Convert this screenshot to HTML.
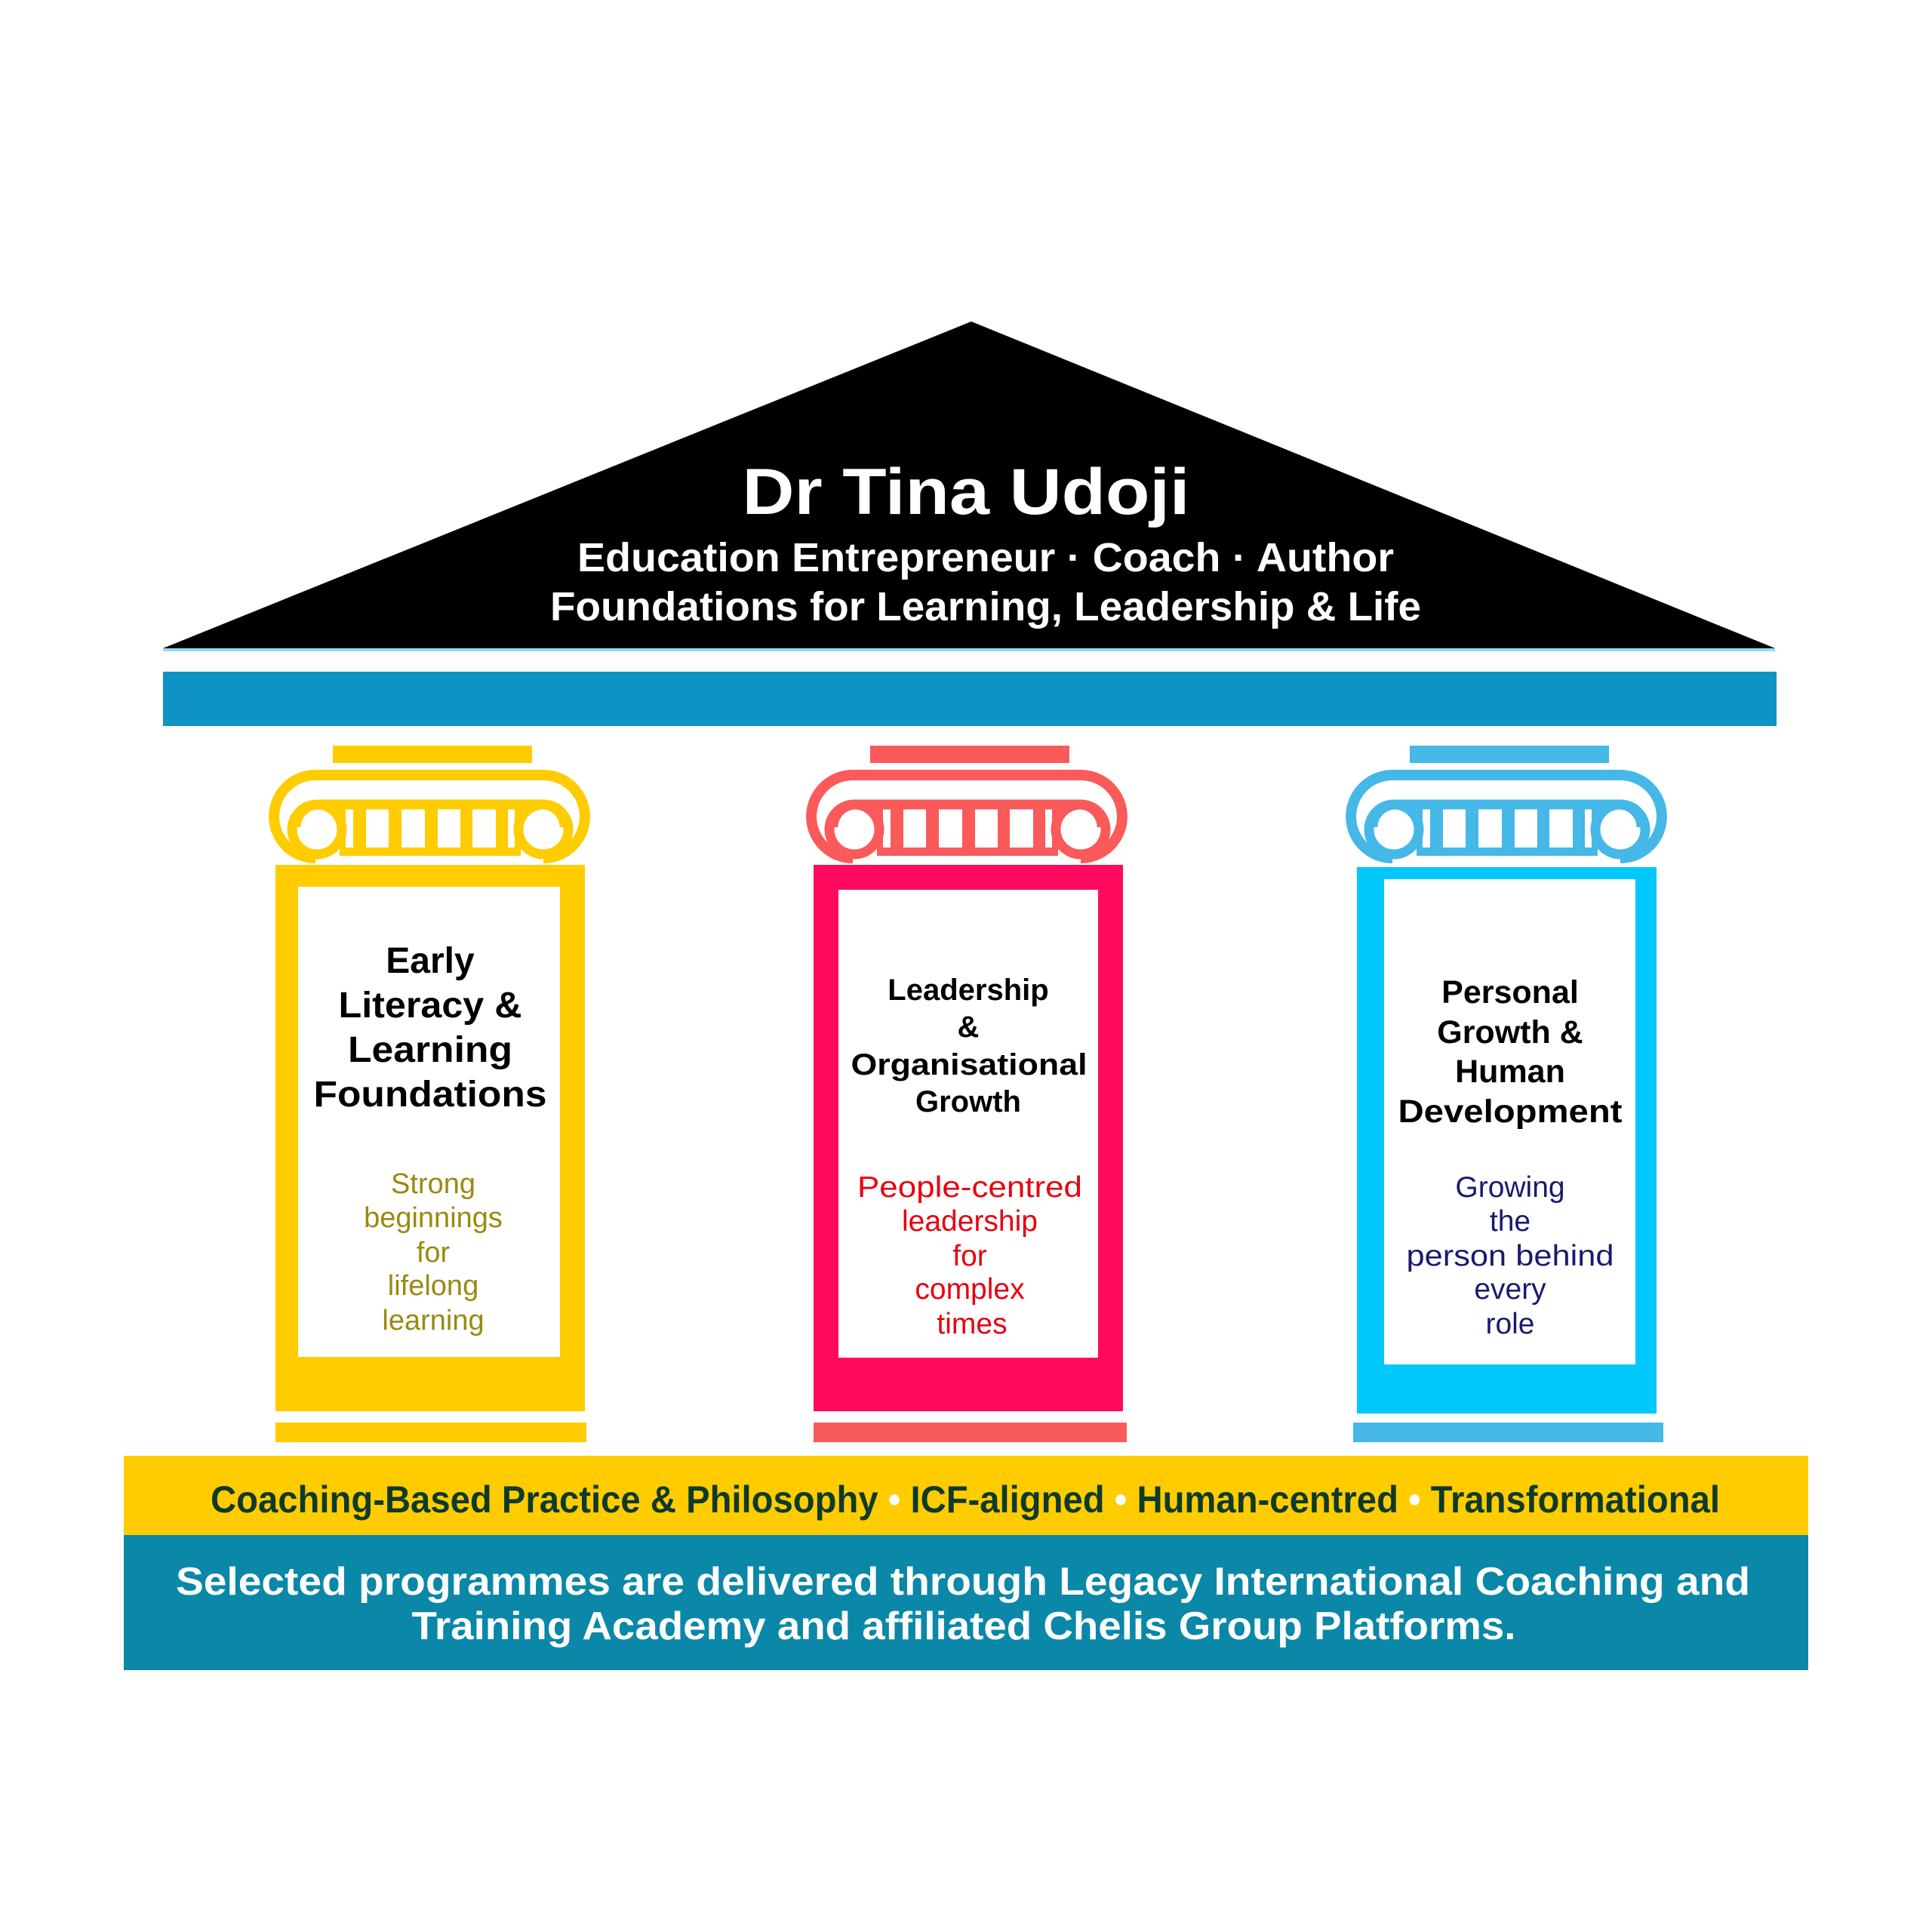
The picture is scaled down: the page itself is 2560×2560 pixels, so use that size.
<!DOCTYPE html>
<html><head><meta charset="utf-8"><style>
html,body{margin:0;padding:0;background:#fff;width:2560px;height:2560px;overflow:hidden}
svg{display:block}
text{font-family:"Liberation Sans",sans-serif}
</style></head><body>
<svg width="2560" height="2560" viewBox="0 0 2560 2560" xmlns="http://www.w3.org/2000/svg">
<defs>
<g id="cap">
  <rect x="441" y="988" width="264" height="23"/>
  <path d="M418,1137 A55,55 0 0 1 418,1027 L720,1027 A55,55 0 0 1 720,1137" fill="none" stroke-width="14" stroke="currentColor"/>
  <path d="M392,1096 A30,30 0 0 1 422,1066 L718,1066 A30,30 0 0 1 748,1096" fill="none" stroke-width="13" stroke="currentColor"/>
  <circle cx="420" cy="1099" r="33" fill="none" stroke-width="13" stroke="currentColor"/>
  <circle cx="720" cy="1099" r="33" fill="none" stroke-width="13" stroke="currentColor"/>
  <rect x="450" y="1123" width="240" height="11"/>
  <rect x="450" y="1066" width="8" height="66"/>
  <rect x="682" y="1066" width="8" height="66"/>
  <rect x="468" y="1066" width="17" height="66"/>
  <rect x="515" y="1066" width="17" height="66"/>
  <rect x="563" y="1066" width="17" height="66"/>
  <rect x="610" y="1066" width="16" height="66"/>
  <rect x="657" y="1066" width="16" height="66"/>
</g>
</defs>
<!-- roof -->
<polygon points="1287,426 2352,859 216,859" fill="#000"/>
<line x1="216" y1="861" x2="2352" y2="861" stroke="#8fdcf5" stroke-width="4"/>
<text x="1280" y="681" text-anchor="middle" font-size="86" font-weight="bold" fill="#fff" textLength="593" lengthAdjust="spacingAndGlyphs">Dr Tina Udoji</text>
<text x="1306" y="757" text-anchor="middle" font-size="54" font-weight="bold" fill="#fff" textLength="1082" lengthAdjust="spacingAndGlyphs">Education Entrepreneur · Coach · Author</text>
<text x="1306" y="822" text-anchor="middle" font-size="54" font-weight="bold" fill="#fff" textLength="1154" lengthAdjust="spacingAndGlyphs">Foundations for Learning, Leadership &amp; Life</text>
<!-- beam -->
<rect x="216" y="890" width="2138" height="72" fill="#0e93c4"/>
<!-- capitals -->
<use href="#cap" fill="#ffcc00" color="#ffcc00"/>
<use href="#cap" fill="#fa5a5a" color="#fa5a5a" transform="translate(712,0)"/>
<use href="#cap" fill="#45b8e8" color="#45b8e8" transform="translate(1427,0)"/>
<!-- shafts -->
<rect x="365" y="1146" width="410" height="724" fill="#ffcc00"/>
<rect x="395" y="1175" width="347" height="623" fill="#fff"/>
<rect x="365" y="1885" width="412" height="26" fill="#ffcc00"/>
<rect x="1078" y="1146" width="410" height="724" fill="#ff0a5f"/>
<rect x="1111" y="1179" width="344" height="620" fill="#fff"/>
<rect x="1078" y="1885" width="415" height="26" fill="#fa5a5a"/>
<rect x="1798" y="1149" width="397" height="724" fill="#00c8fa"/>
<rect x="1834" y="1165" width="333" height="643" fill="#fff"/>
<rect x="1793" y="1885" width="411" height="26" fill="#45b8e8"/>
<!-- yellow text -->
<g font-weight="bold" font-size="48" fill="#000" text-anchor="middle">
<text x="570" y="1289">Early</text>
<text x="570" y="1348" textLength="243" lengthAdjust="spacingAndGlyphs">Literacy &amp;</text>
<text x="570" y="1407" textLength="218" lengthAdjust="spacingAndGlyphs">Learning</text>
<text x="570" y="1466" textLength="309" lengthAdjust="spacingAndGlyphs">Foundations</text>
</g>
<g font-size="38" fill="#9a8a10" text-anchor="middle">
<text x="574" y="1581">Strong</text>
<text x="574" y="1626">beginnings</text>
<text x="574" y="1672">for</text>
<text x="574" y="1716">lifelong</text>
<text x="574" y="1762">learning</text>
</g>
<!-- red text -->
<g font-weight="bold" font-size="40" fill="#000" text-anchor="middle">
<text x="1283" y="1325">Leadership</text>
<text x="1283" y="1374">&amp;</text>
<text x="1284" y="1424" textLength="313" lengthAdjust="spacingAndGlyphs">Organisational</text>
<text x="1283" y="1473">Growth</text>
</g>
<g font-size="39" fill="#e8000f" text-anchor="middle">
<text x="1285" y="1586" textLength="298" lengthAdjust="spacingAndGlyphs">People-centred</text>
<text x="1285" y="1631">leadership</text>
<text x="1285" y="1677">for</text>
<text x="1285" y="1721">complex</text>
<text x="1288" y="1767">times</text>
</g>
<!-- blue text -->
<g font-weight="bold" font-size="43" fill="#000" text-anchor="middle">
<text x="2001" y="1329">Personal</text>
<text x="2001" y="1382">Growth &amp;</text>
<text x="2001" y="1434">Human</text>
<text x="2001" y="1487" textLength="297" lengthAdjust="spacingAndGlyphs">Development</text>
</g>
<g font-size="39" fill="#1a1a70" text-anchor="middle">
<text x="2001" y="1586">Growing</text>
<text x="2001" y="1631">the</text>
<text x="2001" y="1677" textLength="275" lengthAdjust="spacingAndGlyphs">person behind</text>
<text x="2001" y="1721">every</text>
<text x="2001" y="1767">role</text>
</g>
<!-- bands -->
<rect x="164" y="1929" width="2232" height="105" fill="#ffcc00"/>
<rect x="164" y="2034" width="2232" height="179" fill="#0b87a8"/>
<text x="279" y="2004" font-size="50" font-weight="bold" fill="#0f3a2a" textLength="2000" lengthAdjust="spacingAndGlyphs">Coaching-Based Practice &amp; Philosophy <tspan fill="#fff">•</tspan> ICF-aligned <tspan fill="#fff">•</tspan> Human-centred <tspan fill="#fff">•</tspan> Transformational</text>
<text x="1276" y="2113" text-anchor="middle" font-size="52" font-weight="bold" fill="#fff" textLength="2086" lengthAdjust="spacingAndGlyphs">Selected programmes are delivered through Legacy International Coaching and</text>
<text x="1277" y="2172" text-anchor="middle" font-size="52" font-weight="bold" fill="#fff" textLength="1463" lengthAdjust="spacingAndGlyphs">Training Academy and affiliated Chelis Group Platforms.</text>
</svg>
</body></html>
